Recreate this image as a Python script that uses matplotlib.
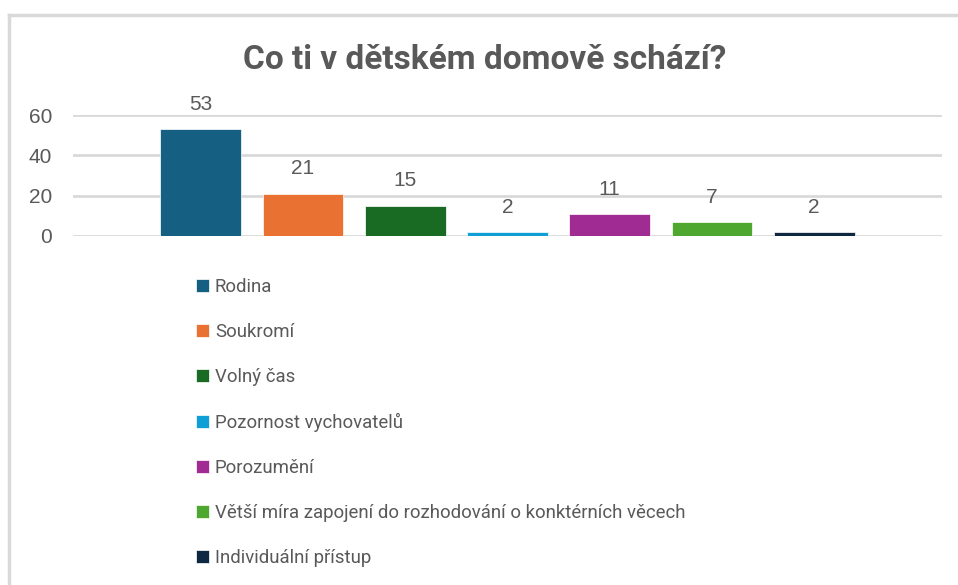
import matplotlib.pyplot as plt
from matplotlib.lines import Line2D

categories = ["Rodina", "Soukromí", "Volný čas", "Pozornost vychovatelů",
              "Porozumění", "Větší míra zapojení do rozhodování o konktérních věcech",
              "Individuální přístup"]
values = [53, 21, 15, 2, 11, 7, 2]
colors = ["#156082", "#E97132", "#196B24", "#0F9ED5", "#A02B93", "#4EA72E", "#0E2841"]
yticks = [0, 20, 40, 60]

text_col = "#595959"
grid_col = "#D9D9D9"

fig = plt.figure(figsize=(9.58, 5.85), dpi=100)
ax = fig.add_axes([0.0762, 0.5966, 0.9071, 0.2068])

bars = []
for i, (c, v, col) in enumerate(zip(categories, values, colors)):
    b = ax.bar(i, v, width=0.79, color=col, edgecolor="white", linewidth=0.5,
               label=c, zorder=3)
    bars.append(b)
    ax.bar_label(b, padding=11, fontsize=15, color=text_col, family="Liberation Sans")

ax.set_xlim(-1.25, 7.25)
ax.set_ylim(0, 60)
ax.set_yticks(yticks)
ax.set_xticks([])
ax.yaxis.grid(True, color=grid_col, linewidth=2, zorder=0)
for s in ax.spines.values():
    s.set_visible(False)
ax.tick_params(axis="y", length=0, pad=15, labelsize=15, labelcolor=text_col)
for t in ax.get_yticklabels():
    t.set_family("Liberation Sans")

fig.text(0.506, 0.897, "Co ti v dětském domově schází?", ha="center", va="center",
         fontsize=24, fontweight="bold", color=text_col, family="Roboto")

fig.legend(handles=[b[0] for b in bars], labels=categories, loc="upper left",
           bbox_to_anchor=(0.2045, 0.525), frameon=False,
           prop={"family": "Roboto", "size": 13.4}, labelcolor=text_col,
           handlelength=0.72, handleheight=0.72, handletextpad=0.3,
           labelspacing=1.45, borderpad=0, borderaxespad=0)

fig.add_artist(Line2D([0.009, 1.0], [1 - 15 / 585] * 2, color=grid_col, linewidth=2.5,
                      transform=fig.transFigure))
fig.add_artist(Line2D([0.0095] * 2, [0.0, 1 - 15 / 585], color=grid_col, linewidth=2.5,
                      transform=fig.transFigure))

fig.savefig("out.png", dpi=100)
